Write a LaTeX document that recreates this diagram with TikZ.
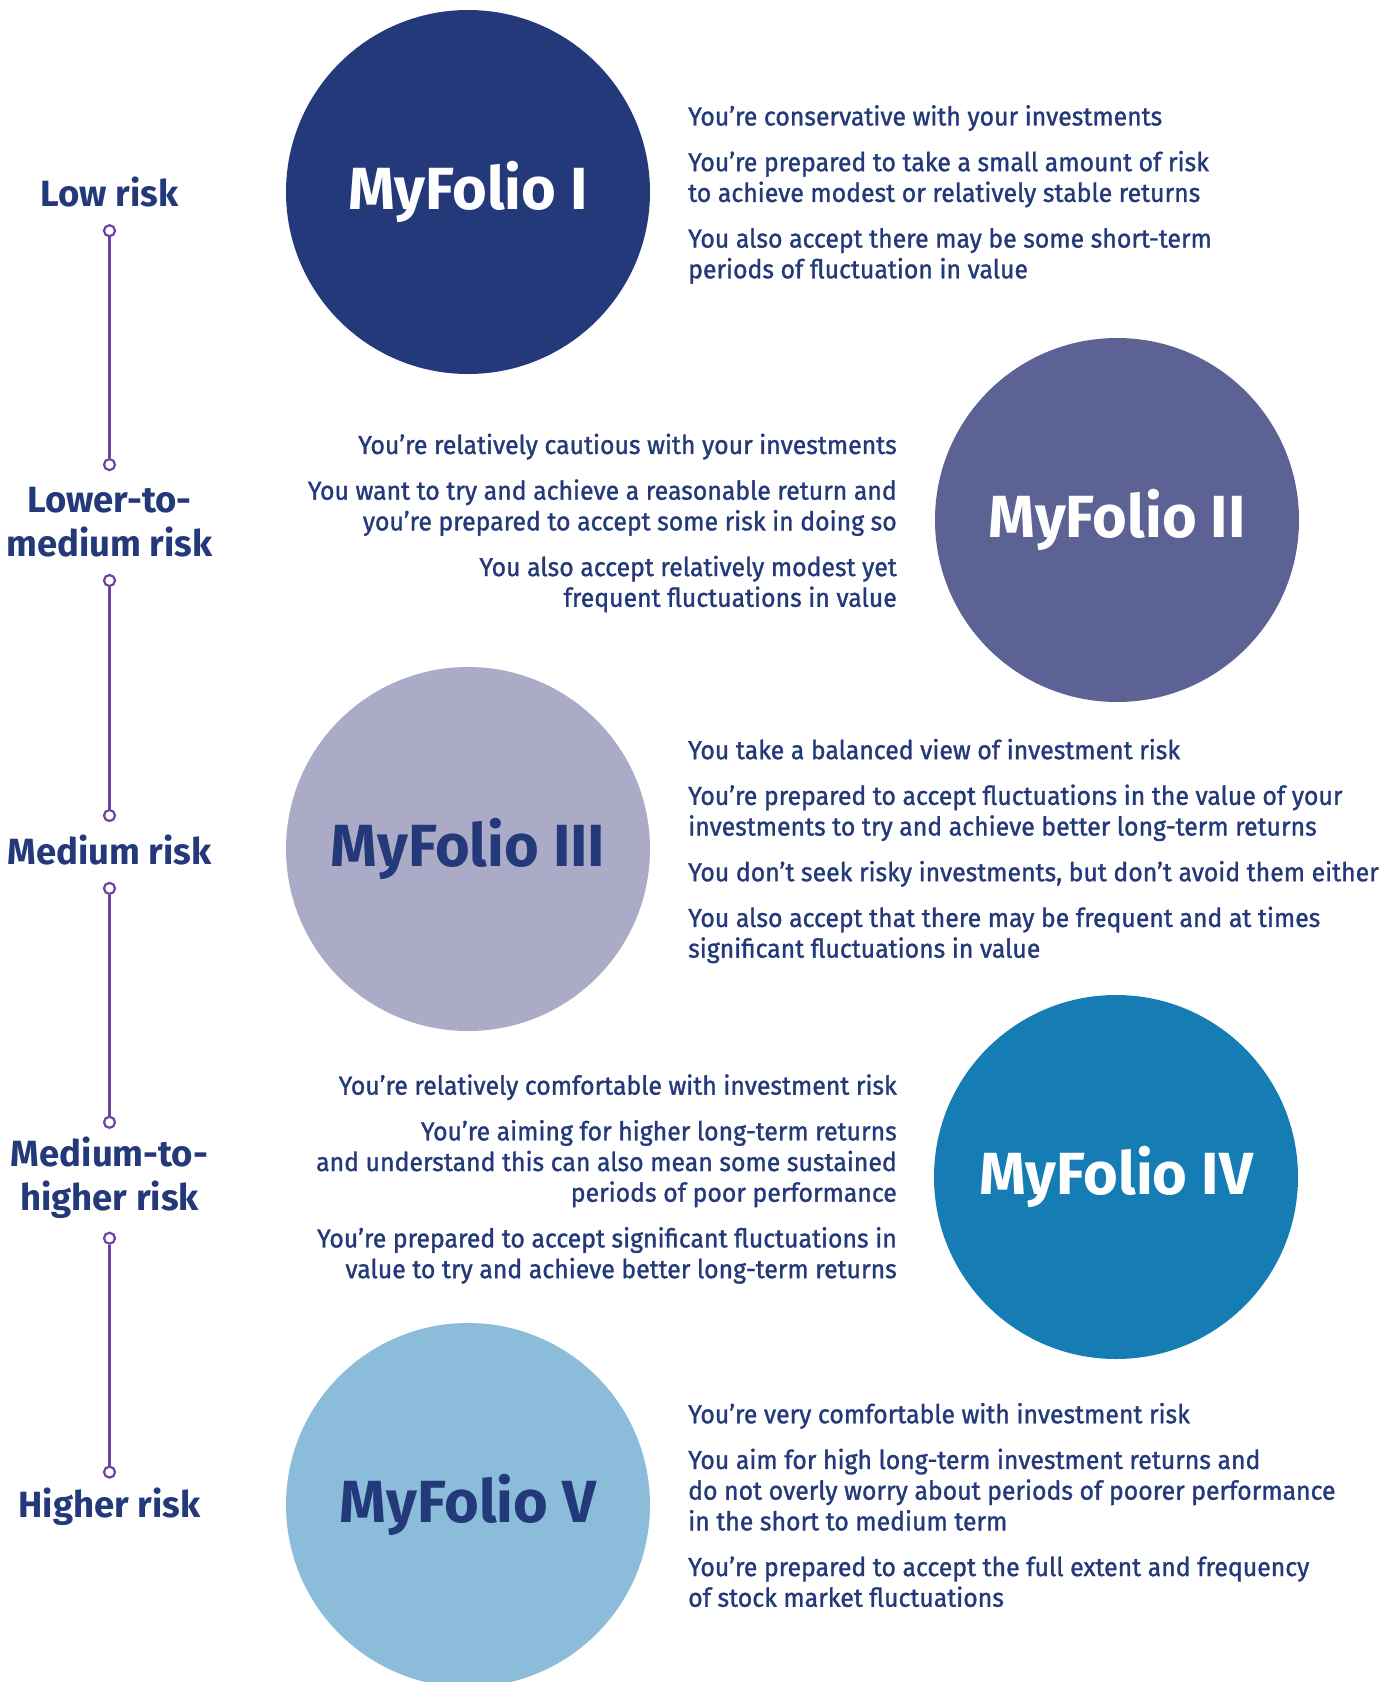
\documentclass[tikz,border=0pt]{standalone}
\usepackage{fontspec}
\setmainfont{Fira Sans}
\newfontfamily\blurbfont{Fira Sans}[FakeStretch=0.955, FakeBold=1.2]
\usepackage{tikz}

\definecolor{navy}{RGB}{35,57,121}
\definecolor{folioA}{RGB}{35,57,121}
\definecolor{folioB}{RGB}{93,98,149}
\definecolor{folioC}{RGB}{171,171,200}
\definecolor{folioD}{RGB}{21,125,179}
\definecolor{folioE}{RGB}{139,188,217}
\definecolor{riskline}{RGB}{112,66,160}

\begin{document}
\begin{tikzpicture}[x=1pt, y=-1pt,
  folio/.style={circle, minimum size=364pt, inner sep=0pt, font=\fontsize{59.5}{62}\selectfont\bfseries},
  risk/.style={align=center, text=navy, inner sep=0pt, font=\fontsize{36.5}{44}\selectfont\bfseries},
  blurb/.style={inner sep=0pt, text=navy, font=\blurbfont\fontsize{26}{30.7}\selectfont},
  dot/.style={circle, draw=riskline, line width=2.2pt, fill=white, inner sep=0pt, minimum size=11pt}]
  \useasboundingbox (0,0) rectangle (1392,1682);

  % portfolio circles
  \node (f1) [folio, fill=folioA, text=white] at (468,192) {MyFolio I};
  \node (f2) [folio, fill=folioB, text=white] at (1117,520) {MyFolio II};
  \node (f3) [folio, fill=folioC, text=navy] at (468,849) {MyFolio III};
  \node (f4) [folio, fill=folioD, text=white] at (1116,1177) {MyFolio IV};
  \node (f5) [folio, fill=folioE, text=navy] at (468,1505) {MyFolio V};

  % risk scale
  \node (r1) [risk] at (109.5,192) {Low risk};
  \node (r2) [risk] at (109.5,522) {Lower-to-\\medium risk};
  \node (r3) [risk] at (109.5,850) {Medium risk};
  \node (r4) [risk] at (109.5,1178) {Medium-to-\\higher risk};
  \node (r5) [risk] at (109.5,1507) {Higher risk};

  \node (d1) [dot] at (109.5,230.7) {};
  \node (d2) [dot] at (109.5,464.6) {};
  \node (d3) [dot] at (109.5,580.5) {};
  \node (d4) [dot] at (109.5,815.5) {};
  \node (d5) [dot] at (109.5,888.4) {};
  \node (d6) [dot] at (109.5,1122.3) {};
  \node (d7) [dot] at (109.5,1238.2) {};
  \node (d8) [dot] at (109.5,1472.1) {};
  \draw [riskline, line width=2.2pt] (d1) -- (d2);
  \draw [riskline, line width=2.2pt] (d3) -- (d4);
  \draw [riskline, line width=2.2pt] (d5) -- (d6);
  \draw [riskline, line width=2.2pt] (d7) -- (d8);

  % descriptions
  \node (t1) [blurb, anchor=west, align=left] at (688,194.5)
    {You’re conservative with your investments\\[15pt]
     You’re prepared to take a small amount of risk\\
     to achieve modest or relatively stable returns\\[15pt]
     You also accept there may be some short-term\\
     periods of fluctuation in value};
  \node (t2) [blurb, anchor=east, align=right] at (897,523)
    {You’re relatively cautious with your investments\\[15pt]
     You want to try and achieve a reasonable return and\\
     you’re prepared to accept some risk in doing so\\[15pt]
     You also accept relatively modest yet\\
     frequent fluctuations in value};
  \node (t3) [blurb, anchor=west, align=left] at (688,851)
    {You take a balanced view of investment risk\\[15pt]
     You’re prepared to accept fluctuations in the value of your\\
     investments to try and achieve better long-term returns\\[15pt]
     You don’t seek risky investments, but don’t avoid them either\\[15pt]
     You also accept that there may be frequent and at times\\
     significant fluctuations in value};
  \node (t4) [blurb, anchor=east, align=right] at (897,1179)
    {You’re relatively comfortable with investment risk\\[15pt]
     You’re aiming for higher long-term returns\\
     and understand this can also mean some sustained\\
     periods of poor performance\\[15pt]
     You’re prepared to accept significant fluctuations in\\
     value to try and achieve better long-term returns};
  \node (t5) [blurb, anchor=west, align=left] at (688,1505)
    {You’re very comfortable with investment risk\\[15pt]
     You aim for high long-term investment returns and\\
     do not overly worry about periods of poorer performance\\
     in the short to medium term\\[15pt]
     You’re prepared to accept the full extent and frequency\\
     of stock market fluctuations};
\end{tikzpicture}
\end{document}
